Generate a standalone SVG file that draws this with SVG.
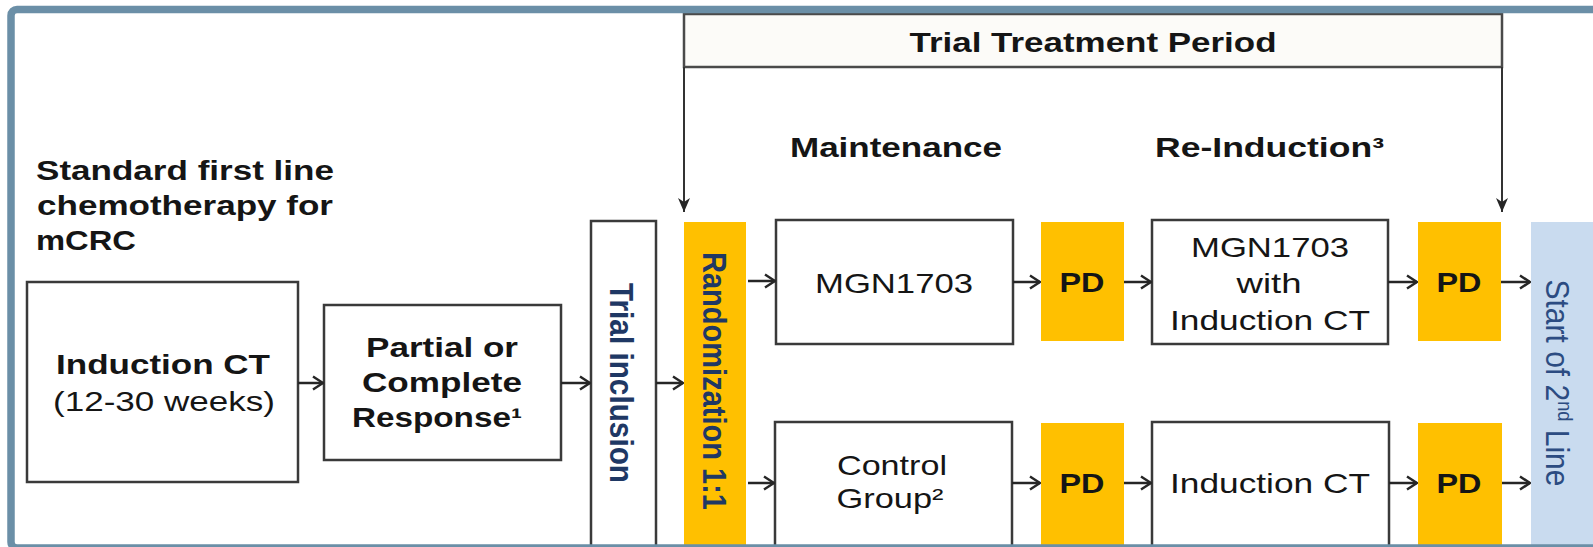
<svg xmlns="http://www.w3.org/2000/svg" width="1593" height="547" viewBox="0 0 1593 547">
<style>
text{font-family:"Liberation Sans",Arial,Helvetica,sans-serif;fill:#151515;font-size:28px}
.b{font-weight:bold}
.m{text-anchor:middle}
.box{fill:#ffffff;stroke:#3a3a3a;stroke-width:2.5}
.pd{fill:#ffc000}
.nav{fill:#1f3864}
.nav2{fill:#2c4c82}
.con{fill:none;stroke:#262626;stroke-width:2.5}
.vcon{fill:none;stroke:#333;stroke-width:2}
</style>
<defs>
<marker id="ah" viewBox="0 0 12 16" refX="11" refY="8" markerWidth="12" markerHeight="16" markerUnits="userSpaceOnUse" orient="auto">
<path d="M1,1.5 L11,8 L1,14.5" fill="none" stroke="#262626" stroke-width="2.5"/>
</marker>
<marker id="dart" viewBox="0 0 14 12" refX="14" refY="6" markerWidth="14" markerHeight="12" markerUnits="userSpaceOnUse" orient="auto">
<path d="M0,0 L14,6 L0,12 L4,6 z" fill="#262626"/>
</marker>
</defs>
<rect width="1593" height="547" fill="#ffffff"/>

<g id="title-left">
<text class="b" x="36" y="180" textLength="298" lengthAdjust="spacingAndGlyphs">Standard first line</text>
<text class="b" x="37" y="215" textLength="296" lengthAdjust="spacingAndGlyphs">chemotherapy for</text>
<text class="b" x="36" y="250" textLength="100" lengthAdjust="spacingAndGlyphs">mCRC</text>
</g>

<g id="trial-period">
<rect x="684" y="14" width="818" height="53" fill="#fcfbf8" stroke="#4a4a4a" stroke-width="2.5"/>
<text class="b m" x="1093" y="52" font-size="29" textLength="367" lengthAdjust="spacingAndGlyphs">Trial Treatment Period</text>
</g>

<g id="label-maintenance">
<text class="b m" x="896" y="157" textLength="212" lengthAdjust="spacingAndGlyphs">Maintenance</text>
</g>
<g id="label-reinduction">
<text class="b" x="1155" y="157" textLength="229" lengthAdjust="spacingAndGlyphs">Re-Induction³</text>
</g>

<g id="induction">
<rect class="box" x="27" y="282" width="271" height="200"/>
<text class="b m" x="163" y="374" textLength="214" lengthAdjust="spacingAndGlyphs">Induction CT</text>
<text class="m" x="164" y="411" textLength="222" lengthAdjust="spacingAndGlyphs">(12-30 weeks)</text>
</g>

<g id="response">
<rect class="box" x="324" y="305" width="237" height="155"/>
<text class="b m" x="442" y="357" textLength="152" lengthAdjust="spacingAndGlyphs">Partial or</text>
<text class="b m" x="442" y="392" textLength="160" lengthAdjust="spacingAndGlyphs">Complete</text>
<text class="b m" x="437" y="427" textLength="170" lengthAdjust="spacingAndGlyphs">Response¹</text>
</g>

<g id="trial-inclusion">
<rect class="box" x="591" y="221" width="65" height="326"/>
<text class="b m nav" transform="translate(622,383) scale(1.2,1) rotate(90)" x="0" y="10" textLength="200" lengthAdjust="spacingAndGlyphs">Trial inclusion</text>
</g>

<g id="randomization">
<rect class="pd" x="684" y="222" width="62" height="325"/>
<text class="b m nav" transform="translate(715,381) scale(1.2,1) rotate(90)" x="0" y="10" textLength="258" lengthAdjust="spacingAndGlyphs">Randomization 1:1</text>
</g>

<g id="mgn1703">
<rect class="box" x="776" y="220" width="237" height="124"/>
<text class="m" x="894" y="293" textLength="158" lengthAdjust="spacingAndGlyphs">MGN1703</text>
</g>

<g id="pd-1">
<rect class="pd" x="1041" y="222" width="83" height="119"/>
<text class="b m" x="1082" y="292" textLength="45" lengthAdjust="spacingAndGlyphs">PD</text>
</g>

<g id="mgn-induction">
<rect class="box" x="1152" y="220" width="236" height="124"/>
<text class="m" x="1270" y="257" textLength="158" lengthAdjust="spacingAndGlyphs">MGN1703</text>
<text class="m" x="1269" y="293" textLength="65" lengthAdjust="spacingAndGlyphs">with</text>
<text class="m" x="1270" y="330" textLength="200" lengthAdjust="spacingAndGlyphs">Induction CT</text>
</g>

<g id="pd-2">
<rect class="pd" x="1418" y="222" width="83" height="119"/>
<text class="b m" x="1459" y="292" textLength="45" lengthAdjust="spacingAndGlyphs">PD</text>
</g>

<g id="second-line">
<rect x="1531" y="222" width="70" height="325" fill="#c9dbef"/>
<text class="m nav2" transform="translate(1558,383) scale(1.2,1) rotate(90)" x="0" y="10" textLength="207" lengthAdjust="spacingAndGlyphs">Start of 2<tspan font-size="17" dy="-10">nd</tspan><tspan dy="10"> Line</tspan></text>
</g>

<g id="control">
<rect class="box" x="775" y="422" width="237" height="125"/>
<text class="m" x="892" y="475" textLength="110" lengthAdjust="spacingAndGlyphs">Control</text>
<text class="m" x="890" y="508" textLength="107" lengthAdjust="spacingAndGlyphs">Group²</text>
</g>

<g id="pd-3">
<rect class="pd" x="1041" y="423" width="83" height="124"/>
<text class="b m" x="1082" y="493" textLength="45" lengthAdjust="spacingAndGlyphs">PD</text>
</g>

<g id="induction-ct">
<rect class="box" x="1152" y="422" width="237" height="125"/>
<text class="m" x="1270" y="493" textLength="200" lengthAdjust="spacingAndGlyphs">Induction CT</text>
</g>

<g id="pd-4">
<rect class="pd" x="1418" y="423" width="84" height="124"/>
<text class="b m" x="1459" y="493" textLength="45" lengthAdjust="spacingAndGlyphs">PD</text>
</g>

<g id="connectors">
<path class="vcon" d="M684,67 V212" marker-end="url(#dart)"/>
<path class="vcon" d="M1502,67 V212" marker-end="url(#dart)"/>
<path class="con" d="M298,383 H323" marker-end="url(#ah)"/>
<path class="con" d="M561,383 H590" marker-end="url(#ah)"/>
<path class="con" d="M656,383 H683" marker-end="url(#ah)"/>
<path class="con" d="M748,281 H775" marker-end="url(#ah)"/>
<path class="con" d="M748,483 H774" marker-end="url(#ah)"/>
<path class="con" d="M1013,282 H1040" marker-end="url(#ah)"/>
<path class="con" d="M1124,282 H1151" marker-end="url(#ah)"/>
<path class="con" d="M1388,282 H1417" marker-end="url(#ah)"/>
<path class="con" d="M1501,282 H1530" marker-end="url(#ah)"/>
<path class="con" d="M1012,483 H1040" marker-end="url(#ah)"/>
<path class="con" d="M1124,483 H1151" marker-end="url(#ah)"/>
<path class="con" d="M1389,483 H1417" marker-end="url(#ah)"/>
<path class="con" d="M1502,483 H1530" marker-end="url(#ah)"/>
</g>

<g id="frame">
<rect x="11" y="9.5" width="1700" height="538.5" rx="6" fill="none" stroke="#6b8fa7" stroke-width="7.5"/>
</g>
</svg>
